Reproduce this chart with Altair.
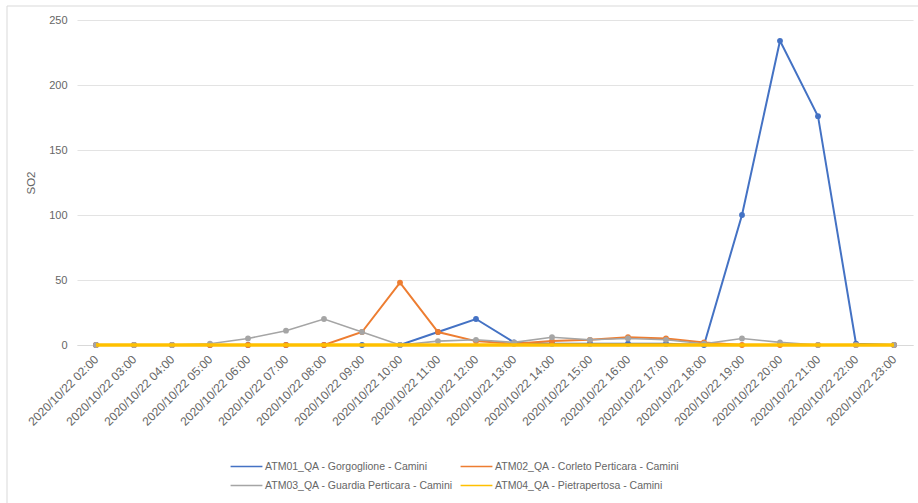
import altair as alt
import pandas as pd

# Hourly SO2 readings, 22 October 2020
hours = [f"2020/10/22 {h:02d}:00" for h in range(2, 24)]

series_names = [
    "ATM01_QA - Gorgoglione - Camini",
    "ATM02_QA - Corleto Perticara - Camini",
    "ATM03_QA - Guardia Perticara - Camini",
    "ATM04_QA - Pietrapertosa - Camini",
]

atm01 = [0, 0, 0, 0, 0, 0, 0, 0, 0, 10, 20, 2, 1, 1, 1, 1, 0, 100, 234, 176, 1, 0]
atm02 = [0, 0, 0, 0, 0, 0, 0, 10, 48, 10, 3, 1, 3, 4, 6, 5, 2, 0, 0, 0, 0, 0]
atm03 = [0, 0, 0, 1, 5, 11, 20, 10, 0, 3, 4, 2, 6, 4, 5, 4, 1, 5, 2, 0, 0, 0]
atm04 = [0] * 22

colors = ["#4472C4", "#ED7D31", "#A5A5A5", "#FFC000"]
widths = [2.0, 2.0, 1.6, 3.5]
has_markers = [True, True, True, False]

rows = []
for name, vals in zip(series_names, [atm01, atm02, atm03, atm04]):
    for h, v in zip(hours, vals):
        rows.append({"ora": h, "serie": name, "SO2": v})
df = pd.DataFrame(rows)

FONT = "Liberation Sans"
TXT = "#666666"

x_enc = alt.X("ora:N", sort=hours, title=None,
              scale=alt.Scale(type="point", padding=0.5),
              axis=alt.Axis(labelAngle=315, labelAlign="right", labelBaseline="middle",
                            labelFontSize=12, labelColor=TXT, labelFont=FONT,
                            ticks=False, domain=True, domainColor="#D9D9D9", grid=False,
                            labelPadding=12))
y_enc = alt.Y("SO2:Q", title="SO2",
              scale=alt.Scale(domain=[0, 250], nice=False),
              axis=alt.Axis(values=[0, 50, 100, 150, 200, 250], grid=True, gridColor="#E3E3E3",
                            domain=False, ticks=False, labelFontSize=11, labelColor=TXT,
                            labelFont=FONT, labelPadding=10,
                            titleFontSize=11.5, titleFontWeight="normal", titleColor=TXT,
                            titleFont=FONT, titlePadding=12))

color_scale = alt.Scale(domain=series_names, range=colors)
# legend keys: a short horizontal stroke, a bit longer than the symbol box
legend = alt.Legend(title=None, orient="none", legendX=156, legendY=433,
                    direction="horizontal", columns=2, columnPadding=4, rowPadding=0,
                    symbolType="M-1.3,0H1.3", symbolSize=600, symbolStrokeWidth=1.6,
                    labelOffset=5, labelFontSize=10.5, labelColor=TXT, labelFont=FONT,
                    labelLimit=300)

layers = []
for i, name in enumerate(series_names):
    sub = df[df["serie"] == name]
    line = alt.Chart(sub).mark_line(strokeWidth=widths[i]).encode(
        x=x_enc, y=y_enc,
        color=alt.Color("serie:N", sort=series_names, scale=color_scale,
                        legend=legend if i == 0 else None),
    )
    layers.append(line)
    if has_markers[i]:
        pts = alt.Chart(sub).mark_circle(size=34, opacity=1).encode(
            x=alt.X("ora:N", sort=hours),
            y="SO2:Q",
            color=alt.Color("serie:N", scale=color_scale, legend=None),
        )
        layers.append(pts)

# faint outer frame of the chart area (top and left edges)
frame = pd.DataFrame({"k": [0]})
frame_top = alt.Chart(frame).mark_rule(color="#D9D9D9", strokeWidth=1).encode(
    x=alt.value(-70), x2=alt.value(841), y=alt.value(-14))
frame_left = alt.Chart(frame).mark_rule(color="#D9D9D9", strokeWidth=1).encode(
    x=alt.value(-70), y=alt.value(-14), y2=alt.value(483))

chart = alt.layer(frame_top, frame_left, *layers).properties(
    width=836, height=325,
    autosize=alt.AutoSizeParams(type="none"),
    padding={"left": 77, "top": 20, "right": 5, "bottom": 158},
    background="white",
).configure_view(stroke=None)

chart.save("out.html", embed_options={"renderer": "svg", "actions": False})
